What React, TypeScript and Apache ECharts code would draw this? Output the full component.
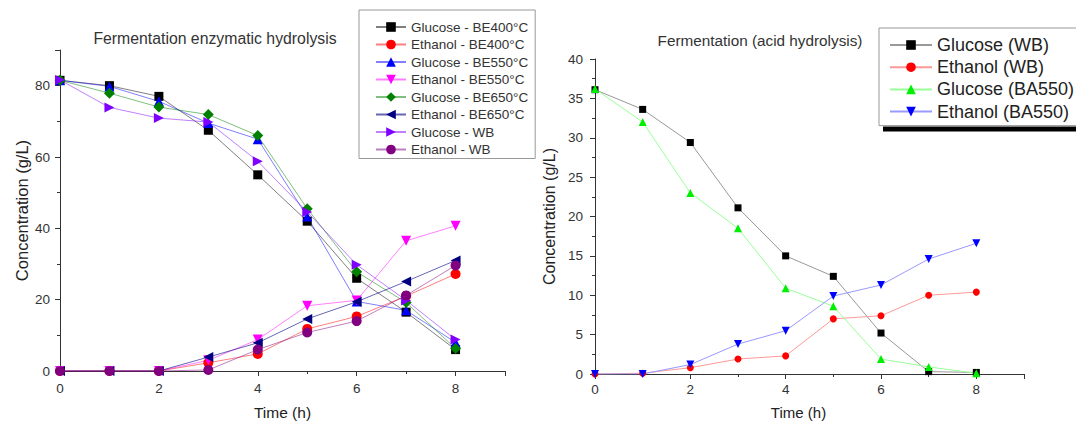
import React, { useEffect, useRef } from "react";
import * as echarts from "echarts";

const FONT = '"Liberation Sans", Arial, Helvetica, sans-serif';

// Time points (h)
const times = [0, 1, 2, 3, 4, 5, 6, 7, 8];

// Left chart: Fermentation enzymatic hydrolysis (g/L)
const glucoseBE400 = [81.5, 80, 77, 67.5, 55, 42, 26, 16.5, 6];
const ethanolBE400 = [0, 0, 0, 2.3, 4.8, 11.8, 15.3, 21, 27.2];
const glucoseBE550 = [81.5, 79.8, 75.6, 69.5, 65, 43.3, 19.5, 17, 8];
const ethanolBE550 = [0, 0, 0, 3, 8.8, 18.3, 19.8, 36.5, 40.7];
const glucoseBE650 = [81.5, 77.9, 74, 71.9, 66, 45.5, 27.8, 19.2, 6.3];
const ethanolBE650 = [0, 0, 0, 3.9, 7.9, 14.6, 19.4, 25.1, 31];
const glucoseWB = [81.6, 73.9, 70.9, 69.8, 58.8, 44.6, 29.8, 19.8, 8.8];
const ethanolWB = [0, 0, 0, 0.3, 6, 10.8, 14, 21.2, 29.6];

// Right chart: Fermentation (acid hydrolysis) (g/L)
const acidGlucoseWB = [36.1, 33.6, 29.4, 21.1, 15.0, 12.4, 5.2, 0.3, 0.2];
const acidEthanolWB = [0, 0.1, 0.8, 1.9, 2.3, 7.0, 7.4, 10.0, 10.4];
const acidGlucoseBA550 = [36.2, 32.0, 23.0, 18.5, 10.9, 8.6, 1.9, 0.9, 0.1];
const acidEthanolBA550 = [0, 0, 1.2, 3.8, 5.5, 9.9, 11.3, 14.6, 16.6];

const leftNames = [
  "Glucose - BE400°C",
  "Ethanol - BE400°C",
  "Glucose - BE550°C",
  "Ethanol - BE550°C",
  "Glucose - BE650°C",
  "Ethanol - BE650°C",
  "Glucose - WB",
  "Ethanol - WB",
];
const rightNames = ["Glucose (WB)", "Ethanol (WB)", "Glucose (BA550)", "Ethanol (BA550)"];

const leftTitle = "Fermentation enzymatic hydrolysis";
const rightTitle = "Fermentation (acid hydrolysis)";
const yName = "Concentration (g/L)";
const xName = "Time (h)";

function pairs(vals: number[]) {
  return times.map((t, i) => [t, vals[i]]);
}

function mkSeries(
  name: string,
  vals: number[],
  color: string,
  lineColor: string,
  symbol: string,
  rotate: number,
  size: number,
  idx: number
) {
  return {
    type: "line",
    name,
    data: pairs(vals),
    xAxisIndex: idx,
    yAxisIndex: idx,
    symbol,
    symbolSize: size,
    symbolRotate: rotate,
    showAllSymbol: true,
    itemStyle: { color, borderWidth: 0 },
    lineStyle: { color: lineColor, width: 1 },
    emphasis: { disabled: true },
  };
}

function axisCommon(fontSize: number, margin: number, showMax: boolean) {
  return {
    axisLine: { show: true, onZero: false, lineStyle: { color: "#333", width: 1 } },
    axisTick: { show: true, inside: false, length: 5, lineStyle: { color: "#333" } },
    minorTick: { show: true, splitNumber: 2, length: 3, lineStyle: { color: "#333" } },
    splitLine: { show: false },
    minorSplitLine: { show: false },
    axisLabel: { color: "#333", fontSize, fontFamily: FONT, margin, showMaxLabel: showMax },
  };
}

export default function App() {
  const ref = useRef<HTMLDivElement>(null);

  useEffect(() => {
    if (!ref.current) return;
    const chart = echarts.init(ref.current, null, { renderer: "svg" });

    const option: any = {
      animation: false,
      backgroundColor: "#fff",
      textStyle: { fontFamily: FONT },
      grid: [
        { left: 60, top: 50, width: 445, height: 325 },
        { left: 595, top: 59, width: 429, height: 319 },
      ],
      xAxis: [
        {
          type: "value",
          gridIndex: 0,
          min: 0,
          max: 9,
          interval: 2,
          name: xName,
          nameLocation: "middle",
          nameGap: 33,
          nameTextStyle: { fontSize: 15.5, color: "#222", fontFamily: FONT },
          ...axisCommon(13.5, 10, false),
        },
        {
          type: "value",
          gridIndex: 1,
          min: 0,
          max: 9,
          interval: 2,
          name: xName,
          nameLocation: "middle",
          nameGap: 31,
          nameTextStyle: { fontSize: 15, color: "#222", fontFamily: FONT, padding: [0, 22, 0, 0] },
          ...axisCommon(13.5, 8, false),
        },
      ],
      yAxis: [
        {
          type: "value",
          gridIndex: 0,
          min: 0,
          max: 90,
          interval: 20,
          name: yName,
          nameLocation: "middle",
          nameGap: 30,
          nameTextStyle: { fontSize: 16.5, color: "#222", fontFamily: FONT },
          ...axisCommon(13.5, 10, false),
        },
        {
          type: "value",
          gridIndex: 1,
          min: 0,
          max: 40,
          interval: 5,
          name: yName,
          nameLocation: "middle",
          nameGap: 38,
          nameTextStyle: { fontSize: 16, color: "#222", fontFamily: FONT },
          ...axisCommon(13.5, 12, true),
        },
      ],
      legend: [
        {
          data: leftNames,
          orient: "vertical",
          left: 359,
          top: 10,
          padding: [10, 7, 2, 16],
          itemWidth: 30,
          itemHeight: 12,
          itemGap: 3.5,
          borderColor: "#999",
          borderWidth: 1,
          backgroundColor: "#fff",
          textStyle: { fontSize: 13.5, color: "#333", fontFamily: FONT },
          selectedMode: false,
          z: 10,
        },
        {
          data: rightNames,
          orient: "vertical",
          left: 879,
          top: 28,
          padding: [8, 20, 5, 10],
          itemWidth: 42,
          itemHeight: 12,
          itemGap: 4.2,
          borderColor: "#999",
          borderWidth: 1,
          backgroundColor: "#fff",
          textStyle: { fontSize: 18, color: "#222", fontFamily: FONT },
          selectedMode: false,
          z: 10,
        },
      ],
      graphic: [
        {
          type: "text",
          x: 215,
          y: 38,
          style: {
            text: leftTitle,
            fontSize: 15.8,
            fontFamily: FONT,
            fill: "#333",
            textAlign: "center",
            textVerticalAlign: "middle",
          },
        },
        {
          type: "text",
          x: 760,
          y: 40,
          style: {
            text: rightTitle,
            fontSize: 15.3,
            fontFamily: FONT,
            fill: "#333",
            textAlign: "center",
            textVerticalAlign: "middle",
          },
        },
        {
          type: "rect",
          z: 1,
          shape: { x: 883, y: 126.5, width: 200, height: 5 },
          style: { fill: "#000" },
        },
      ],
      series: [
        mkSeries(leftNames[0], glucoseBE400, "#000000", "rgba(0,0,0,0.5)", "rect", 0, 9, 0),
        mkSeries(leftNames[1], ethanolBE400, "#ff0000", "rgba(255,0,0,0.5)", "circle", 0, 10, 0),
        mkSeries(leftNames[2], glucoseBE550, "#0000ff", "rgba(0,0,255,0.5)", "triangle", 0, 10, 0),
        mkSeries(leftNames[3], ethanolBE550, "#ff00ff", "rgba(255,0,255,0.5)", "triangle", 180, 10, 0),
        mkSeries(leftNames[4], glucoseBE650, "#008000", "rgba(0,128,0,0.5)", "diamond", 0, 11, 0),
        mkSeries(leftNames[5], ethanolBE650, "#000080", "rgba(0,0,128,0.6)", "triangle", 90, 10, 0),
        mkSeries(leftNames[6], glucoseWB, "#8000ff", "rgba(128,0,255,0.5)", "triangle", -90, 10, 0),
        mkSeries(leftNames[7], ethanolWB, "#800080", "rgba(128,0,128,0.5)", "circle", 0, 10, 0),
        mkSeries(rightNames[0], acidGlucoseWB, "#000000", "#999999", "rect", 0, 7, 1),
        mkSeries(rightNames[1], acidEthanolWB, "#ff0000", "#ff9999", "circle", 0, 7, 1),
        mkSeries(rightNames[2], acidGlucoseBA550, "#00ee00", "#99ff99", "triangle", 0, 8, 1),
        mkSeries(rightNames[3], acidEthanolBA550, "#0000ff", "#9999ff", "triangle", 180, 8, 1),
      ],
    };

    chart.setOption(option);
    return () => chart.dispose();
  }, []);

  return (
    <div
      ref={ref}
      style={{ position: "fixed", left: 0, top: 0, width: 1076, height: 425, background: "#fff" }}
    />
  );
}
